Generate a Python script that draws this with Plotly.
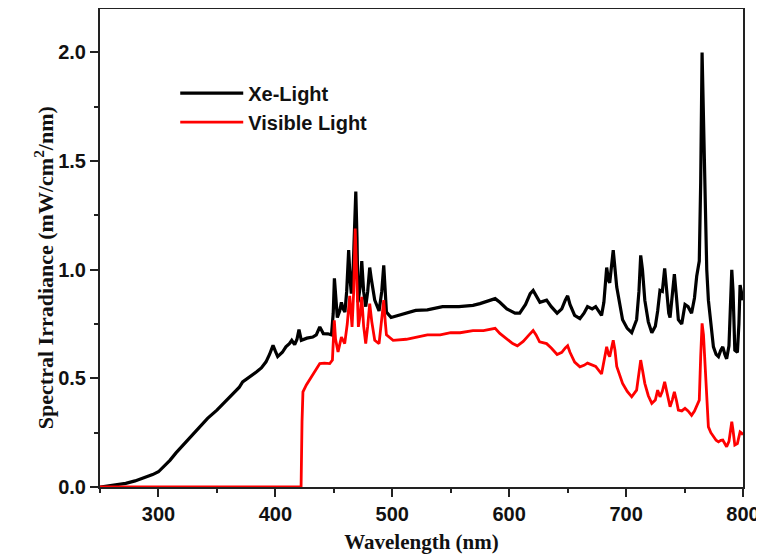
import plotly.graph_objects as go

# Xe-Light spectrum (wavelength nm, irradiance mW/cm2/nm)
xe_wl = [250, 258, 265, 272, 280, 287, 295, 300, 305, 310, 315, 321, 328, 335, 342, 350, 357, 364, 369, 372,
         378, 384, 388, 392, 395, 398, 400, 402, 406, 409, 412, 414, 416.5, 418.5, 420.2, 422.2, 427, 432, 435, 438,
         441, 445, 448, 449.5, 450.5, 452, 453, 455, 456.5, 458, 459.5, 461, 462.7, 464, 465, 466.5, 468, 468.8,
         469.8, 470.7, 472.5, 473.9, 475.5, 477.3, 479, 480.7, 482, 485, 488.7, 491, 492.7, 494, 495, 499, 505,
         512, 520, 530, 543, 557, 569, 575, 582, 588, 592, 598, 605, 609, 614, 618, 620.5, 623, 626.3, 632, 636,
         641, 645, 648, 650, 652, 656, 660.5, 664, 667, 671, 674, 679, 681, 683.4, 685, 686, 689, 690.5, 692, 697,
         701, 704.8, 709, 711, 712.5, 714, 716, 719, 722, 725, 727, 729, 731, 733, 735, 736.5, 737.6, 739.5, 741.3,
         743, 744.7, 747.6, 750.4, 753, 756, 758.5, 760.4, 762.6, 763.8, 765.0, 766.2, 767.6, 769, 770.4, 772.5,
         774.7, 777, 779, 781, 782.7, 784.5, 786, 788, 789.5, 790.4, 791.5, 793, 795.2, 796.5, 797.5, 798.5, 800]
xe_val = [0.000, 0.005, 0.010, 0.017, 0.028, 0.040, 0.057, 0.070, 0.095, 0.124, 0.157, 0.193, 0.233, 0.277, 0.316,
          0.354, 0.393, 0.430, 0.458, 0.484, 0.505, 0.530, 0.548, 0.576, 0.610, 0.652, 0.625, 0.600, 0.620, 0.645,
          0.660, 0.675, 0.655, 0.680, 0.725, 0.675, 0.685, 0.690, 0.700, 0.737, 0.706, 0.705, 0.700, 0.800, 0.960,
          0.840, 0.780, 0.810, 0.850, 0.820, 0.805, 0.900, 1.090, 0.950, 0.890, 1.000, 1.300, 1.360, 1.150, 0.850,
          0.920, 1.040, 0.900, 0.830, 0.900, 1.010, 0.960, 0.860, 0.810, 0.900, 1.020, 0.880, 0.805, 0.780, 0.790,
          0.800, 0.813, 0.815, 0.830, 0.830, 0.836, 0.844, 0.855, 0.867, 0.850, 0.820, 0.800, 0.800, 0.840, 0.890,
          0.905, 0.880, 0.850, 0.860, 0.830, 0.800, 0.820, 0.860, 0.880, 0.840, 0.790, 0.775, 0.800, 0.830, 0.820,
          0.830, 0.790, 0.850, 1.010, 0.950, 0.940, 1.090, 1.020, 0.920, 0.770, 0.730, 0.710, 0.770, 0.900, 1.066,
          1.000, 0.860, 0.760, 0.710, 0.740, 0.810, 0.905, 0.900, 1.006, 0.900, 0.800, 0.780, 0.880, 0.980, 0.880,
          0.770, 0.750, 0.840, 0.830, 0.800, 0.870, 0.970, 1.040, 1.400, 2.000, 1.700, 1.320, 1.000, 0.860, 0.740,
          0.645, 0.610, 0.600, 0.630, 0.645, 0.610, 0.590, 0.650, 0.900, 1.000, 0.900, 0.630, 0.620, 0.750, 0.930,
          0.900, 0.860]

# Visible Light spectrum
vis_wl = [250, 422.0, 422.8, 423.6, 426.5, 431, 435, 438, 442, 446.5, 448.8, 449.7, 450.4, 451.5, 453.6, 456.5,
          459.3, 461.5, 463.6, 465.6, 467, 468.3, 469.5, 471, 472.5, 473.9, 475.5, 477.3, 479, 480.7, 482.5, 485,
          488.7, 491, 492.7, 494, 495, 500.7, 506, 512, 521, 530, 541, 550, 558, 569, 578, 585, 588, 592, 598, 603,
          607, 612, 617, 620.5, 623, 626, 632, 636, 641, 645, 648, 650, 652, 656, 660.5, 664, 667, 671, 674, 679,
          681, 683.4, 685, 686, 689, 690.5, 692, 697, 701, 704.8, 709, 711, 712.5, 714, 716, 719, 722, 725, 727,
          729, 731, 733, 735, 737.6, 739.5, 741.3, 743, 744.7, 747.6, 750.4, 753, 756, 758.5, 760.4, 762.6, 763.8,
          765, 766.2, 767.6, 769, 770.4, 772.5, 774.7, 777, 779, 781, 782.7, 784.5, 786, 788, 789.5, 790.4, 791.5,
          793, 795.2, 796.5, 797.5, 798.5, 800]
vis_val = [0.0, 0.0, 0.300, 0.438, 0.470, 0.510, 0.540, 0.568, 0.570, 0.568, 0.584, 0.680, 0.767, 0.680, 0.622,
           0.690, 0.660, 0.750, 0.880, 0.737, 0.900, 1.190, 1.000, 0.737, 0.790, 0.875, 0.740, 0.660, 0.740, 0.844,
           0.760, 0.675, 0.660, 0.760, 0.860, 0.760, 0.700, 0.675, 0.676, 0.680, 0.690, 0.700, 0.700, 0.710, 0.710,
           0.720, 0.720, 0.728, 0.730, 0.707, 0.680, 0.660, 0.650, 0.670, 0.700, 0.720, 0.700, 0.668, 0.660, 0.640,
           0.610, 0.620, 0.640, 0.650, 0.620, 0.575, 0.553, 0.560, 0.570, 0.560, 0.555, 0.520, 0.580, 0.645, 0.610,
           0.600, 0.675, 0.630, 0.555, 0.477, 0.440, 0.415, 0.446, 0.520, 0.584, 0.540, 0.477, 0.420, 0.385, 0.400,
           0.446, 0.415, 0.440, 0.484, 0.430, 0.369, 0.400, 0.438, 0.400, 0.354, 0.350, 0.362, 0.350, 0.330, 0.350,
           0.377, 0.400, 0.600, 0.753, 0.700, 0.550, 0.380, 0.277, 0.250, 0.231, 0.215, 0.208, 0.215, 0.216, 0.200,
           0.185, 0.210, 0.270, 0.300, 0.260, 0.193, 0.200, 0.230, 0.254, 0.250, 0.240]

x_ticks = [300, 400, 500, 600, 700, 800]
y_ticks = [0.0, 0.5, 1.0, 1.5, 2.0]
y_tick_labels = ["0.0", "0.5", "1.0", "1.5", "2.0"]

fig = go.Figure()
fig.add_trace(go.Scatter(x=xe_wl, y=xe_val, mode="lines", name="<b>Xe-Light</b>",
                         line=dict(color="#000000", width=3.2)))
fig.add_trace(go.Scatter(x=vis_wl, y=vis_val, mode="lines", name="<b>Visible Light</b>",
                         line=dict(color="#ff0000", width=2.8)))

axis_common = dict(showline=True, linecolor="#222222", linewidth=2, mirror=True,
                   ticks="outside", tickcolor="#222222", tickwidth=1.5, ticklen=8,
                   showgrid=False, zeroline=False, automargin=False,
                   tickfont=dict(family="Liberation Sans, Arial", size=20, color="#111111"))

# The page body has an 8px default margin, so the figure is sized to fit the 764x554 window.
fig.update_layout(
    width=756, height=546,
    margin=dict(l=92, r=21, t=1, b=67),
    paper_bgcolor="white", plot_bgcolor="white",
    xaxis=dict(range=[250, 800], tickvals=x_ticks, ticktext=["<b>%d</b>" % t for t in x_ticks],
               minor=dict(ticks="outside", ticklen=4, tickcolor="#222222", dtick=50, tick0=250),
               title=dict(text="<b>Wavelength (nm)</b>", standoff=10,
                          font=dict(family="Liberation Serif, Times New Roman", size=21, color="#111111")),
               **axis_common),
    yaxis=dict(range=[0, 2.2], tickvals=y_ticks, ticktext=["<b>%s</b>" % t for t in y_tick_labels],
               minor=dict(ticks="outside", ticklen=4, tickcolor="#222222", dtick=0.25, tick0=0),
               **axis_common),
    legend=dict(x=0.117, y=0.865, xanchor="left", yanchor="top", bgcolor="rgba(0,0,0,0)",
                font=dict(family="Liberation Sans, Arial", size=20, color="#111111"),
                itemwidth=63, tracegroupgap=4),
    showlegend=True,
    annotations=[dict(text="<b>Spectral Irradiance (mW/cm<sup>2</sup>/nm)</b>", textangle=-90,
                      xref="paper", yref="paper", x=-0.087, y=0.458, xanchor="center", yanchor="middle",
                      showarrow=False,
                      font=dict(family="Liberation Serif, Times New Roman", size=22, color="#111111"))],
)

fig.write_html("out.html")
